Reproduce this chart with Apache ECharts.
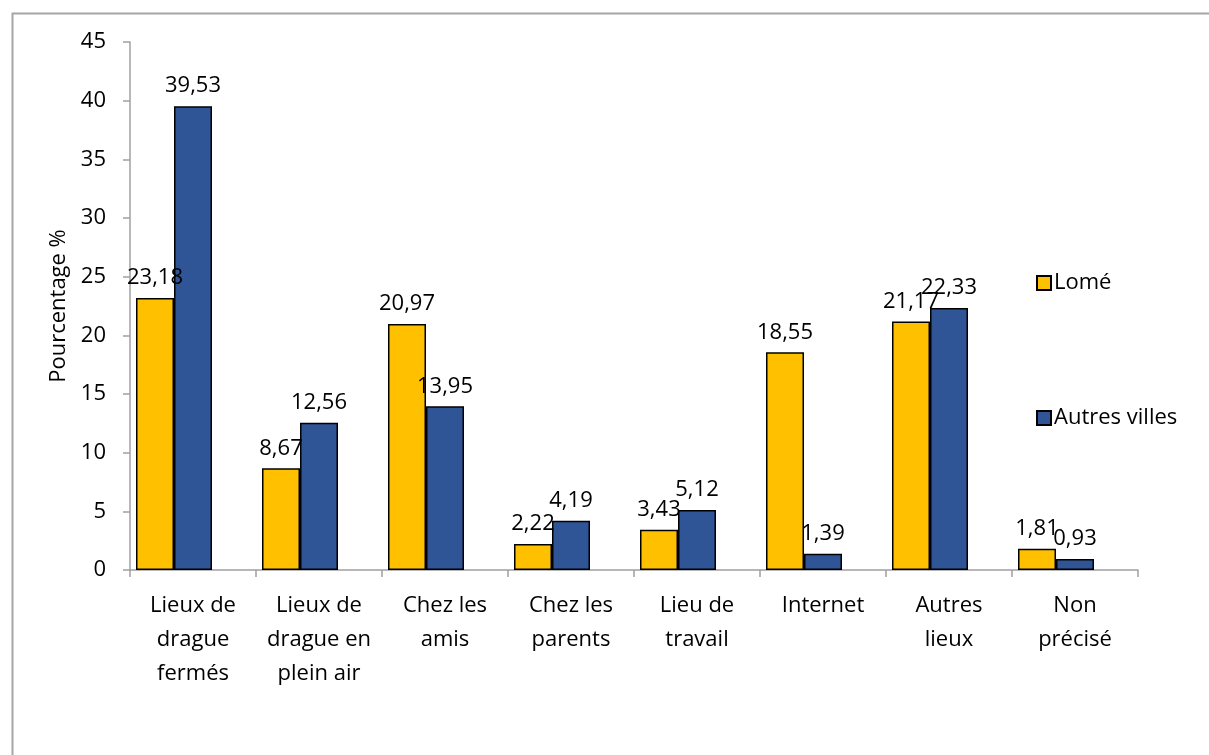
<!DOCTYPE html>
<html>
<head>
<meta charset="utf-8">
<script src="https://cdn.jsdelivr.net/npm/echarts@6/dist/echarts.min.js"></script>
<style>
html,body{margin:0;padding:0;background:#fff;}
#chart{width:1209px;height:755px;}
</style>
</head>
<body>
<div id="chart"></div>
<script>
var categories = ["Lieux de\ndrague\nfermés", "Lieux de\ndrague en\nplein air", "Chez les\namis", "Chez les\nparents", "Lieu de\ntravail", "Internet", "Autres\nlieux", "Non\nprécisé"];
var lome = [23.18, 8.67, 20.97, 2.22, 3.43, 18.55, 21.17, 1.81];
var autres = [39.53, 12.56, 13.95, 4.19, 5.12, 1.39, 22.33, 0.93];
var seriesNames = ["Lomé", "Autres villes"];
var yTicks = [0, 5, 10, 15, 20, 25, 30, 35, 40, 45];

var FONT = "'Open Sans', 'Noto Sans', sans-serif";
var FS = 22;
var chart = echarts.init(document.getElementById('chart'), null, {renderer: 'canvas'});
function fmt(p){ return p.value.toFixed(2).replace('.', ','); }
var labelCfg = {show: true, position: 'top', distance: 9, color: '#000', fontSize: FS, fontFamily: FONT, formatter: fmt};

chart.setOption({
  animation: false,
  backgroundColor: '#fff',
  graphic: [{
    type: 'rect', left: 10, top: 11, silent: true,
    shape: {x: 0, y: 0, width: 1400, height: 1000},
    style: {fill: 'none', stroke: '#A6A6A6', lineWidth: 2}
  }],
  grid: {left: 130, right: 71, top: 42, bottom: 185, containLabel: false},
  legend: {
    data: seriesNames,
    orient: 'vertical',
    left: 1031, top: 267,
    itemWidth: 14, itemHeight: 14, itemGap: 113,
    textStyle: {fontSize: FS, fontFamily: FONT, color: '#000', padding: [0, 0, 0, -2]},
    icon: 'rect'
  },
  xAxis: {
    type: 'category',
    data: categories,
    axisLine: {lineStyle: {color: '#A0A0A0', width: 1.5}},
    axisTick: {show: true, length: 7, lineStyle: {color: '#A0A0A0', width: 1.5}},
    axisLabel: {fontSize: FS, fontFamily: FONT, color: '#000', lineHeight: 34, margin: 19, interval: 0}
  },
  yAxis: {
    type: 'value', min: 0, max: 45, interval: 5,
    name: 'Pourcentage %', nameLocation: 'middle', nameGap: 60,
    nameTextStyle: {fontSize: FS, fontFamily: FONT, color: '#000'},
    axisLine: {show: true, lineStyle: {color: '#A0A0A0', width: 1.5}},
    axisTick: {show: true, length: 7, lineStyle: {color: '#A0A0A0', width: 1.5}},
    splitLine: {show: false},
    axisLabel: {fontSize: FS, fontFamily: FONT, color: '#000', margin: 24,
      formatter: function(v){ return yTicks.indexOf(v) >= 0 ? String(v) : ''; }}
  },
  series: [
    {name: seriesNames[0], type: 'bar', data: lome, barWidth: 38, barGap: '0%',
     itemStyle: {color: '#FFC000', borderColor: '#000', borderWidth: 1.5}, label: labelCfg},
    {name: seriesNames[1], type: 'bar', data: autres, barWidth: 38, barGap: '0%',
     itemStyle: {color: '#2F5597', borderColor: '#000', borderWidth: 1.5}, label: labelCfg},
    {name: 'spacer', type: 'bar', data: [], barWidth: 38, barGap: '0%'}
  ]
});
</script>
</body>
</html>
